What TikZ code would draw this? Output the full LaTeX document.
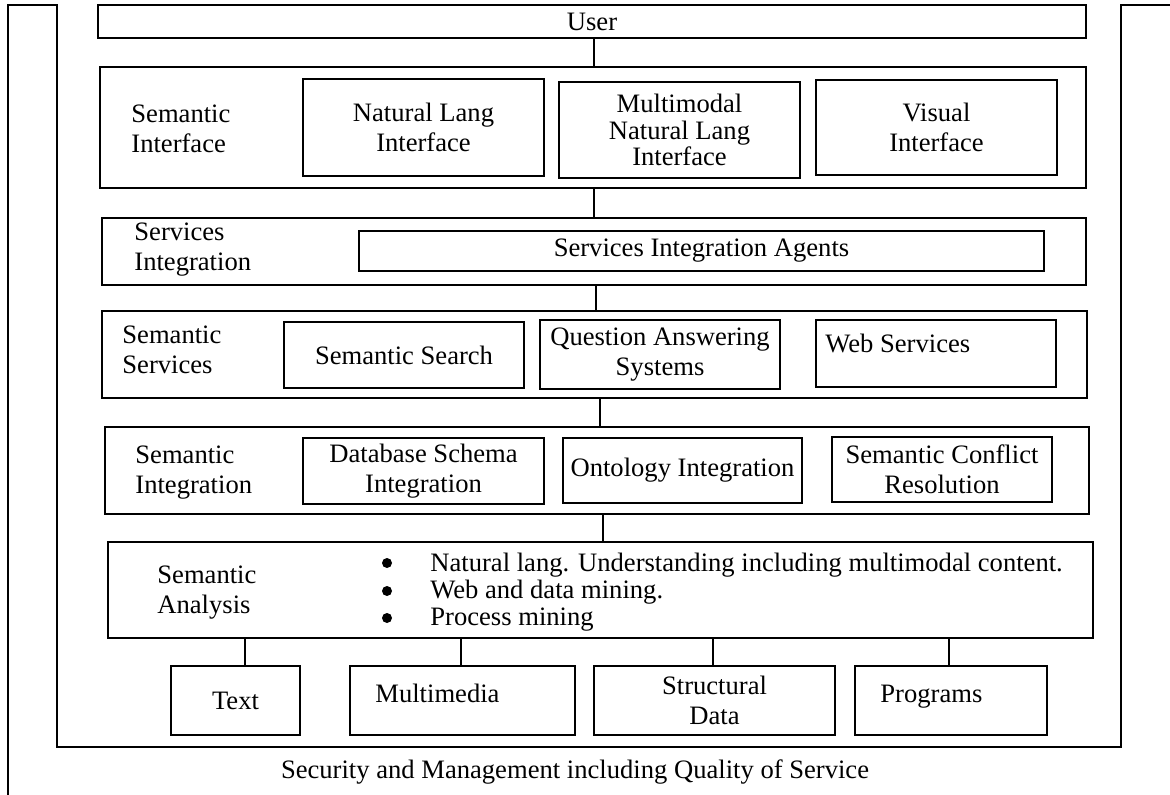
\documentclass[tikz,border=0pt]{standalone}
\usepackage{fontspec}
\setmainfont{Liberation Serif}
\newcommand{\myfs}{\fontsize{13.3}{15}\selectfont}
% \bx[style]{name}{x1}{y1}{x2}{y2}{text}
\newcommand{\bx}[7][box]{\node[#1, minimum width={(#5-#3)*0.5pt}, minimum height={(#6-#4)*0.5pt}] (#2) at ({(#3+#5)/2},{(#4+#6)/2}) {#7};}
\begin{document}
\begin{tikzpicture}[x=0.5pt,y=-0.5pt,
  frame/.style={line width=1pt},
  box/.style={draw, line width=1pt, inner sep=0pt, align=center, font=\myfs},
  ibox/.style={box, line width=1.2pt},
  lbl/.style={inner sep=0pt, align=left, anchor=north west, font=\myfs},
  txt/.style={inner sep=0pt, anchor=base west, font=\myfs},
  dot/.style={fill=black},
  conn/.style={line width=1pt}]
\useasboundingbox (0,0) rectangle (1170,795);
% outer frame
\draw[frame] (8,795) -- (8,5) -- (57,5) -- (57,747) -- (1121,747) -- (1121,5) -- (1170,5);
% User
\bx{user}{98}{5}{1086}{38}{User}
% Semantic Interface
\bx{si}{100}{67}{1086}{188}{}
\node[lbl] (lsi) at (131,104) {Semantic\\Interface};
\bx[ibox]{nl}{303}{79}{544}{176}{Natural Lang\\Interface}
\bx[box, font=\fontsize{13.3}{13.3}\selectfont]{mm}{559}{82}{800}{178}{Multimodal\\Natural Lang\\Interface}
\bx[ibox]{vi}{816}{80}{1057}{175}{Visual\\Interface}
% Services Integration
\bx{svi}{102}{218}{1086}{285}{}
\node[lbl] (lsvi) at (134,222) {Services\\Integration};
\bx[ibox]{agents}{359}{231}{1044}{271}{Services Integration Agents}
% Semantic Services
\bx{ss}{102}{311}{1087}{398}{}
\node[lbl] (lss) at (122,325) {Semantic\\Services};
\bx[ibox]{search}{284}{322}{524}{388}{Semantic Search}
\bx[ibox]{qa}{540}{320}{780}{389}{Question Answering\\Systems}
\bx{web}{816}{320}{1056}{387}{}
\node[txt] (tweb) at (825,353) {Web Services};
% Semantic Integration
\bx{sint}{105}{427}{1089}{514}{}
\node[lbl] (lsint) at (135,445) {Semantic\\Integration};
\bx[ibox]{db}{303}{438}{544}{504}{Database Schema\\Integration}
\bx[ibox]{onto}{563}{438}{802}{503}{Ontology Integration}
\bx{conf}{832}{437}{1052}{502}{Semantic Conflict\\Resolution}
% Semantic Analysis
\bx{sa}{108}{542}{1093}{638}{}
\node[lbl] (lsa) at (157,565) {Semantic\\Analysis};
\fill[dot] (387,563) circle (5);
\fill[dot] (387,591) circle (5);
\fill[dot] (387,618) circle (5);
\node[txt] (b1) at (430,571) {Natural lang. Understanding including multimodal content.};
\node[txt] (b2) at (430,598) {Web and data mining.};
\node[txt] (b3) at (430,625) {Process mining};
% sources
\bx{text}{171}{666}{300}{735}{Text}
\bx{mmd}{350}{666}{575}{735}{}
\node[txt] (tmmd) at (375,702) {Multimedia};
\bx{sd}{594}{666}{835}{735}{Structural\\Data}
\bx{prog}{855}{666}{1047}{735}{}
\node[txt] (tprog) at (880,702) {Programs};
% caption
\node[inner sep=0pt, anchor=base, font=\myfs] (cap) at (575,778) {Security and Management including Quality of Service};
% connectors
\coordinate (c1) at (594,0);
\coordinate (c2) at (596,0);
\coordinate (c3) at (600,0);
\coordinate (c4) at (603,0);
\draw[conn] (user.south -| c1) -- (si.north -| c1);
\draw[conn] (si.south -| c1) -- (svi.north -| c1);
\draw[conn] (svi.south -| c2) -- (ss.north -| c2);
\draw[conn] (ss.south -| c3) -- (sint.north -| c3);
\draw[conn] (sint.south -| c4) -- (sa.north -| c4);
\coordinate (d1) at (245,0);
\coordinate (d2) at (461,0);
\coordinate (d3) at (713,0);
\coordinate (d4) at (949,0);
\draw[conn] (sa.south -| d1) -- (text.north -| d1);
\draw[conn] (sa.south -| d2) -- (mmd.north -| d2);
\draw[conn] (sa.south -| d3) -- (sd.north -| d3);
\draw[conn] (sa.south -| d4) -- (prog.north -| d4);
\end{tikzpicture}
\end{document}
